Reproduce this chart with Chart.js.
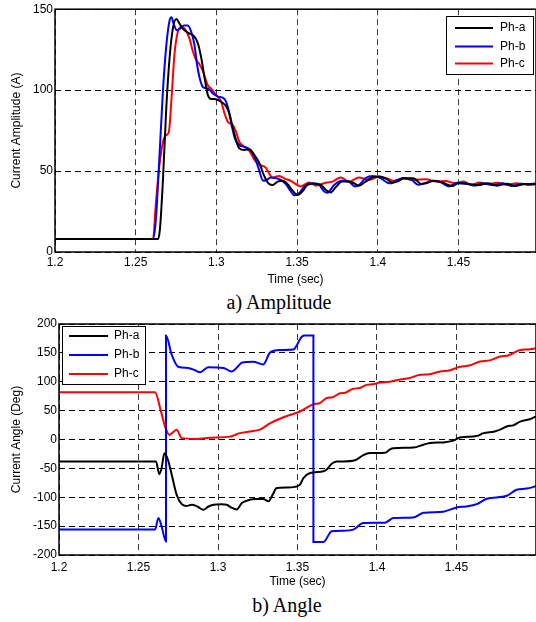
<!DOCTYPE html>
<html lang="en">
<head>
    <meta charset="UTF-8">
    <title>Current Amplitude and Angle</title>
    <style>
        body {
            margin: 0;
            padding: 0;
            background-color: #ffffff;
            width: 536px;
            height: 622px;
            overflow: hidden;
            position: relative;
        }
        .plot {
            position: absolute;
            left: 0;
            width: 536px;
        }
        #amp-box { top: 0; height: 290px; }
        #ang-box { top: 312px; height: 280px; }
        .caption {
            position: absolute;
            width: 200px;
            text-align: center;
            font-family: "Liberation Serif", "Times New Roman", serif;
            font-size: 20px;
            line-height: 20px;
            color: #000;
        }
    </style>
</head>
<body>

    <div class="plot" id="amp-box"><canvas id="ampChart"></canvas></div>
    <div class="caption" style="left:179px; top:292px;">a) Amplitude</div>

    <div class="plot" id="ang-box"><canvas id="angChart"></canvas></div>
    <div class="caption" style="left:187px; top:595px;">b) Angle</div>

    <script src="https://cdn.jsdelivr.net/npm/chart.js"></script>
    <script>
        // tick labels
        const timeTicks = [1.2, 1.25, 1.3, 1.35, 1.4, 1.45];
        const ampTicks = [0, 50, 100, 150];
        const angTicks = [-200, -150, -100, -50, 0, 50, 100, 150, 200];
        const phaseLabels = ['Ph-a', 'Ph-b', 'Ph-c'];

        // a) amplitude (A)
        const ampTimeA = [1.2, 1.2638, 1.2650, 1.2669, 1.2690, 1.2710, 1.2730, 1.2751, 1.2772, 1.2792, 1.2823, 1.2864, 1.2885, 1.2906, 1.2926, 1.2947, 1.2967, 1.2988, 1.3029, 1.3060, 1.3080, 1.3101, 1.3122, 1.3142, 1.3173, 1.3204, 1.3235, 1.3266, 1.3296, 1.3327, 1.3348, 1.3379, 1.3410, 1.3440, 1.3471, 1.3502, 1.3533, 1.3564, 1.3605, 1.3646, 1.3677, 1.3708, 1.3739, 1.3780, 1.3821, 1.3852, 1.3883, 1.3924, 1.3965, 1.4007, 1.4048, 1.4090, 1.4120, 1.4160, 1.4220, 1.4270, 1.4300, 1.4350, 1.4400, 1.4460, 1.4500, 1.4560, 1.4620, 1.4680, 1.4740, 1.4800, 1.4850, 1.4910, 1.4980];
        const ampA = [8, 8, 14, 45, 90, 120, 138, 144, 141, 138, 135.5, 133, 129, 120, 108, 97, 94.5, 94.5, 92.8, 90, 85.5, 77, 69, 64, 63, 63.5, 60, 55, 47, 42, 41.4, 43.5, 44, 42, 38, 35.2, 37.5, 41.5, 42.2, 41.5, 38.5, 36.8, 40, 43.5, 43.5, 42.5, 41, 43.5, 46, 46.6, 45.5, 43, 43.5, 45.5, 45.5, 42, 42.5, 44, 43, 40.8, 42.5, 42, 41.2, 42.5, 41, 42.2, 40.8, 42, 41.8];

        const ampTimeB = [1.2, 1.2607, 1.2625, 1.2645, 1.2669, 1.2690, 1.2710, 1.2722, 1.2735, 1.2755, 1.2775, 1.2800, 1.2823, 1.2844, 1.2864, 1.2880, 1.2895, 1.2916, 1.2947, 1.2978, 1.3010, 1.3050, 1.3075, 1.3095, 1.3115, 1.3142, 1.3173, 1.3204, 1.3235, 1.3260, 1.3290, 1.3310, 1.3338, 1.3389, 1.3430, 1.3461, 1.3482, 1.3513, 1.3554, 1.3600, 1.3636, 1.3667, 1.3688, 1.3729, 1.3780, 1.3820, 1.3860, 1.3890, 1.3924, 1.3970, 1.4020, 1.4060, 1.4085, 1.4120, 1.4160, 1.4210, 1.4250, 1.4290, 1.4340, 1.4390, 1.4440, 1.4490, 1.4540, 1.4600, 1.4650, 1.4720, 1.4770, 1.4830, 1.4890, 1.4940, 1.4980];
        const ampB = [8, 8, 20, 55, 100, 128, 143, 145, 141, 137, 138, 140, 140, 136, 128, 116, 108, 102, 101, 98, 96, 94.5, 88, 78, 70, 66, 65, 63.5, 59, 52, 44, 44.5, 46, 45, 42, 37.5, 35, 36.5, 41.4, 42.5, 41.5, 37.5, 36.6, 41.4, 44, 43.5, 40.5, 42, 45.6, 47, 45.5, 42.8, 42.4, 44.5, 45.5, 44.5, 41.5, 42.5, 44, 43, 40.5, 42.8, 42.5, 41, 42.5, 41.3, 42.4, 40.8, 42.2, 41.5, 42];

        const ampTimeC = [1.2, 1.2607, 1.2625, 1.2645, 1.2669, 1.2685, 1.2705, 1.2722, 1.2740, 1.2761, 1.2782, 1.2803, 1.2833, 1.2854, 1.2875, 1.2895, 1.2915, 1.2947, 1.2967, 1.2998, 1.3029, 1.3049, 1.3070, 1.3101, 1.3122, 1.3142, 1.3173, 1.3204, 1.3235, 1.3266, 1.3307, 1.3330, 1.3348, 1.3389, 1.3430, 1.3461, 1.3482, 1.3523, 1.3575, 1.3616, 1.3667, 1.3719, 1.3770, 1.3821, 1.3883, 1.3945, 1.4007, 1.4068, 1.4100, 1.4160, 1.4220, 1.4300, 1.4360, 1.4420, 1.4480, 1.4530, 1.4580, 1.4630, 1.4680, 1.4740, 1.4800, 1.4860, 1.4910, 1.4980];
        const ampC = [8, 8, 30, 52, 68, 72, 74, 95, 122, 136, 139, 138, 132, 124, 118.5, 116, 112, 103, 101, 97, 93, 86, 80.5, 78.4, 74, 68, 65, 62.5, 57, 54, 52, 48, 46, 47, 45, 44, 42.5, 40.5, 43, 41, 42.5, 43.5, 46, 43.5, 46, 44.5, 46.6, 45, 44, 45.5, 44.5, 45, 43.5, 43.8, 42.5, 43.5, 41.5, 43, 41.8, 42.8, 41.5, 42.5, 41.8, 42.5];

        // b) angle (deg)
        const angTimeA = [1.2, 1.2610, 1.2631, 1.2645, 1.2663, 1.2685, 1.2709, 1.2740, 1.2772, 1.2800, 1.2835, 1.2870, 1.2908, 1.2940, 1.2971, 1.3020, 1.3055, 1.3085, 1.3117, 1.3150, 1.3170, 1.3233, 1.3285, 1.3317, 1.3345, 1.3369, 1.3432, 1.3480, 1.3516, 1.3537, 1.3579, 1.3663, 1.3684, 1.3715, 1.3747, 1.3788, 1.3862, 1.3914, 1.3956, 1.4050, 1.4082, 1.4103, 1.4229, 1.4292, 1.4334, 1.4417, 1.4480, 1.4522, 1.4627, 1.4669, 1.4740, 1.4774, 1.4816, 1.4860, 1.4900, 1.4960, 1.5];
        const angA = [-38, -38, -60, -50, -24, -35, -61, -96, -112, -115, -113, -116, -121.6, -116, -113, -112, -113, -118, -121, -110, -107, -103, -103, -107, -95, -84, -83, -82, -78, -67, -58, -55, -52, -42, -38, -38, -36, -27, -23.5, -23, -17, -15, -14, -9, -6, -5, -2, 3.5, 6, 11, 14, 17, 22.5, 25, 31, 35, 40];

        const angTimeB = [1.2, 1.2604, 1.2625, 1.2645, 1.2673, 1.2673, 1.2709, 1.2750, 1.2813, 1.2855, 1.2887, 1.2939, 1.3034, 1.3086, 1.3120, 1.3149, 1.3222, 1.3285, 1.3327, 1.3390, 1.3474, 1.3527, 1.3545, 1.3600, 1.3600, 1.3663, 1.3715, 1.3788, 1.3851, 1.3914, 1.4050, 1.4103, 1.4229, 1.4292, 1.4417, 1.4501, 1.4560, 1.4627, 1.4690, 1.4816, 1.4878, 1.4940, 1.5];
        const angB = [-156, -156, -136, -150, -176.5, 180, 146.5, 126, 124, 120, 116.6, 125, 124, 117.6, 125, 133, 134.6, 130, 150.5, 155, 156, 178, 180, 180, -177.5, -177.5, -159, -158, -156, -144.7, -144, -136, -135, -127, -125, -117.6, -116, -112, -102.6, -97.5, -87, -85, -81];

        const angTimeC = [1.2, 1.2604, 1.2640, 1.2670, 1.2694, 1.2715, 1.2740, 1.2772, 1.2866, 1.2950, 1.3075, 1.3138, 1.3201, 1.3264, 1.3327, 1.3390, 1.3453, 1.3516, 1.3600, 1.3640, 1.3684, 1.3720, 1.3767, 1.3800, 1.3851, 1.3890, 1.3935, 1.3970, 1.4019, 1.4080, 1.4145, 1.4200, 1.4271, 1.4330, 1.4396, 1.4460, 1.4522, 1.4580, 1.4648, 1.4710, 1.4774, 1.4830, 1.4900, 1.4950, 1.5];
        const angC = [82, 82, 50, 20, 8, 12, 17, 2.4, 1, 3, 5, 11, 14, 17, 28, 36, 42.5, 48.5, 61, 63, 72, 73, 80, 81, 88, 89, 94.6, 95.5, 98.6, 100, 104, 106, 112, 113, 117.6, 120, 126, 128, 135, 137, 143.6, 146, 155, 156, 158];

        const fontFamily = '"Liberation Sans", Arial, sans-serif';

        function points(times, values) {
            return times.map((t, i) => ({ x: t, y: values[i] }));
        }

        // draws the axes box and the in-plot legend
        const frameLegend = {
            id: 'frameLegend',
            afterDatasetsDraw(chart, args, opts) {
                const ctx = chart.ctx;
                const a = chart.chartArea;
                ctx.save();
                ctx.setLineDash([]);
                ctx.strokeStyle = '#000';
                ctx.lineWidth = 1.5;
                ctx.strokeRect(a.left, a.top, a.right - a.left, a.bottom - a.top);

                const b = opts.box;
                ctx.fillStyle = '#fff';
                ctx.fillRect(b.x, b.y, b.w, b.h);
                ctx.lineWidth = 1;
                ctx.strokeRect(b.x + 0.5, b.y + 0.5, b.w, b.h);
                ctx.font = '12px ' + fontFamily;
                ctx.textBaseline = 'middle';
                chart.data.datasets.forEach((ds, i) => {
                    const y = b.y + opts.rows[i];
                    ctx.strokeStyle = ds.borderColor;
                    ctx.lineWidth = 2;
                    ctx.beginPath();
                    ctx.moveTo(b.x + opts.line[0], y);
                    ctx.lineTo(b.x + opts.line[1], y);
                    ctx.stroke();
                    ctx.fillStyle = '#000';
                    ctx.fillText(ds.label, b.x + opts.text, y);
                });
                ctx.restore();
            }
        };

        function makeDatasets(series) {
            const colors = ['#000000', '#0000ff', '#ff0000'];
            return series.map((pts, i) => ({
                label: phaseLabels[i],
                data: pts,
                borderColor: colors[i],
                borderWidth: 2,
                pointRadius: 0,
                fill: false,
                cubicInterpolationMode: 'monotone'
            }));
        }

        function timeAxis(max, height, tickPad) {
            return {
                type: 'linear',
                min: 1.2,
                max: max,
                afterBuildTicks: s => { s.ticks = timeTicks.map(v => ({ value: v })); },
                afterFit: s => { s.height = height; },
                grid: { color: '#3a3a3a', lineWidth: 1, drawTicks: false },
                border: { display: false, dash: [6, 4] },
                ticks: {
                    color: '#000', padding: tickPad, maxRotation: 0, autoSkip: false,
                    font: { family: fontFamily, size: 12 },
                    callback: v => String(v)
                },
                title: {
                    display: true, text: 'Time (sec)', color: '#000',
                    font: { family: fontFamily, size: 12 },
                    padding: { top: 0, bottom: 3 }
                }
            };
        }

        function valueAxis(min, max, tickList, width, tickPad, label) {
            return {
                type: 'linear',
                min: min,
                max: max,
                afterBuildTicks: s => { s.ticks = tickList.map(v => ({ value: v })); },
                afterFit: s => { s.width = width; },
                grid: { color: '#000', lineWidth: 1, drawTicks: false },
                border: { display: false, dash: [6, 4] },
                ticks: {
                    color: '#000', padding: tickPad, autoSkip: false,
                    font: { family: fontFamily, size: 12 },
                    callback: v => String(v)
                },
                title: {
                    display: true, text: label, color: '#000',
                    font: { family: fontFamily, size: 12 },
                    padding: { top: 9, bottom: 0 }
                }
            };
        }

        new Chart(document.getElementById('ampChart').getContext('2d'), {
            type: 'line',
            data: {
                datasets: makeDatasets([
                    points(ampTimeA, ampA),
                    points(ampTimeB, ampB),
                    points(ampTimeC, ampC)
                ])
            },
            options: {
                responsive: true,
                maintainAspectRatio: false,
                animation: false,
                layout: { padding: { top: 9, right: 0, bottom: 0, left: 0 } },
                scales: {
                    x: timeAxis(1.498, 38, 3),
                    y: valueAxis(0, 150, ampTicks, 55, 2, 'Current Amplitude (A)')
                },
                plugins: {
                    legend: { display: false },
                    tooltip: { enabled: false },
                    frameLegend: { box: { x: 446, y: 16, w: 87, h: 58 }, line: [9, 47], text: 54, rows: [12, 30.5, 47.5] }
                }
            },
            plugins: [frameLegend]
        });

        new Chart(document.getElementById('angChart').getContext('2d'), {
            type: 'line',
            data: {
                datasets: makeDatasets([
                    points(angTimeA, angA),
                    points(angTimeB, angB),
                    points(angTimeC, angC)
                ])
            },
            options: {
                responsive: true,
                maintainAspectRatio: false,
                animation: false,
                layout: { padding: { top: 12, right: 0, bottom: 0, left: 0 } },
                scales: {
                    x: timeAxis(1.5, 37, 5),
                    y: valueAxis(-200, 200, angTicks, 59, 2, 'Current Angle (Deg)')
                },
                plugins: {
                    legend: { display: false },
                    tooltip: { enabled: false },
                    frameLegend: { box: { x: 62, y: 14, w: 83, h: 58 }, line: [7, 46], text: 52, rows: [10, 29, 48] }
                }
            },
            plugins: [frameLegend]
        });
    </script>
</body>
</html>
